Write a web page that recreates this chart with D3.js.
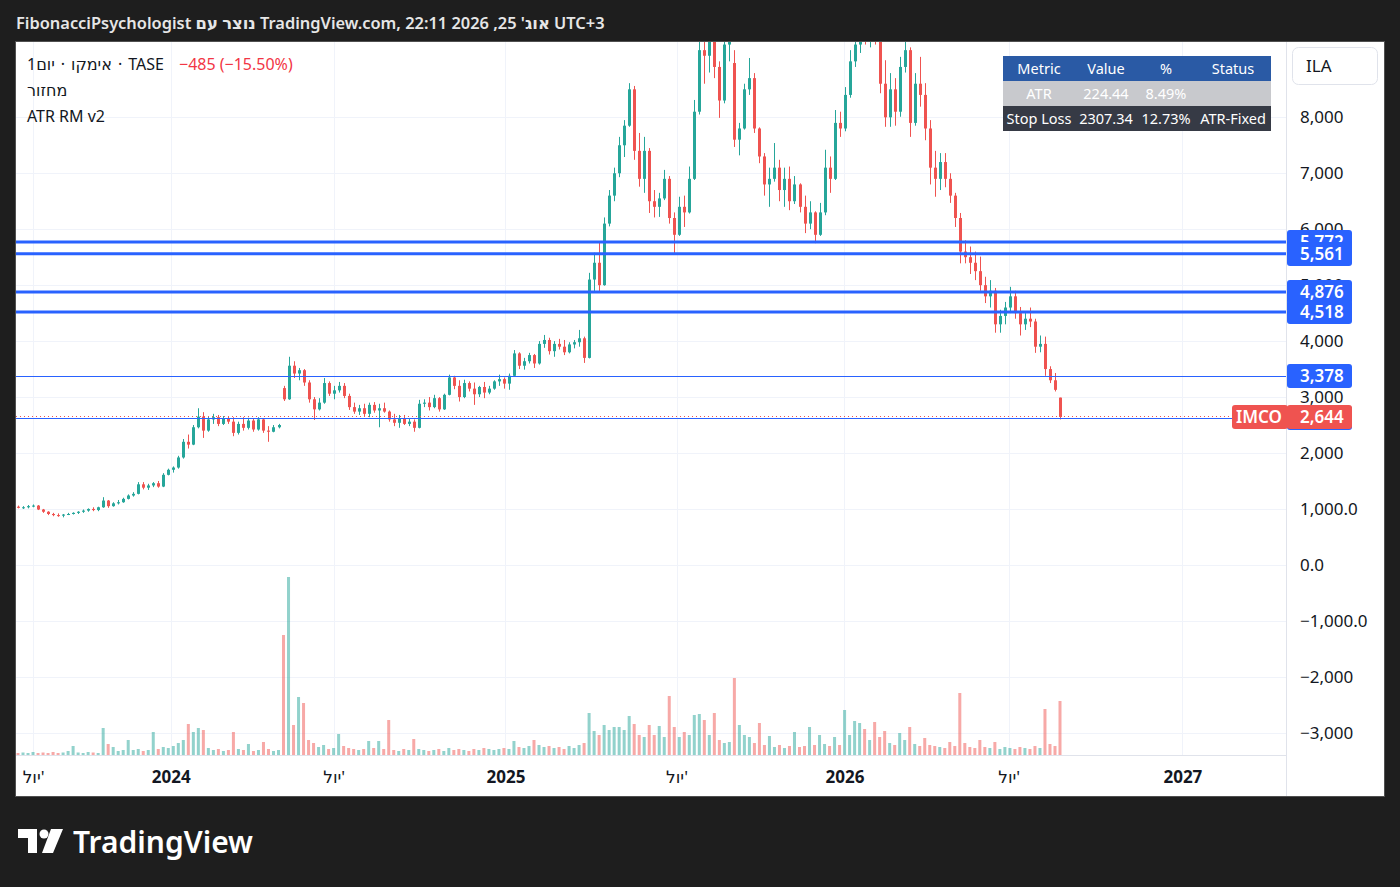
<!DOCTYPE html>
<html>
<head>
<meta charset="utf-8">
<script src="https://cdn.jsdelivr.net/npm/d3@7"></script>
<style>
  html, body { margin: 0; padding: 0; background: #1e1e1e; }
  svg { display: block; font-family: "Noto Sans", "DejaVu Sans", sans-serif; }
</style>
</head>
<body>
<svg id="chart" width="1400" height="887"></svg>
<script>
// candles, one per ~4 trading days (ILA)
const opens = [1040,1020,1030,1050,1060,990,950,910,890,880,900,910,930,950,970,1000,980,
  1030,1150,1050,1100,1120,1180,1240,1270,1440,1380,1420,1460,1400,1610,1700,1740,1920,2200,2150,2460,2650,
  2400,2600,2640,2520,2620,2560,2360,2520,2450,2580,2420,2600,2400,2380,2460,
  3160,2960,3560,3420,3480,3260,2960,2780,2900,3250,3060,3120,3200,3020,2820,2740,2800,2700,2860,2760,2800,2740,
  2600,2540,2620,2520,2560,2450,2880,2900,2820,2980,2780,3040,3350,3200,3000,3250,3150,3050,3180,3080,3150,3280,3320,3240,
  3380,3780,3560,3640,3750,3600,3950,4020,3820,3950,3900,3800,3940,3980,4050,
  3700,5100,5400,5000,6100,6600,7000,7500,7850,8500,7400,6900,7400,6500,6400,6550,6900,6200,5900,6400,6300,6900,8100,9200,9100,9400,8900,8300,9300,
  8970,7600,7800,8500,
  8700,7800,7300,6800,6900,7100,6700,6900,6500,6800,6400,6100,6300,5900,6300,7100,6900,7900,
  7800,8400,9000,9300,9500,9400,9550,9400,8600,8000,
  8500,8100,8900,9200,7900,8600,8400,7800,7100,6900,7200,6900,6600,
  6200,
  5600,5500,5400,5250,5000,4800,4900,4300,4450,4600,4800,4500,4300,4400,4350,3900,
  3950,3500,3300,2990];
const highs = [1060,1050,1070,1080,1070,1000,960,930,920,910,930,940,960,990,1010,1030,1040,
  1210,1160,1120,1160,1200,1260,1300,1480,1480,1450,1480,1500,1640,1720,1760,1950,2250,2330,2500,2800,2730,
  2650,2700,2680,2660,2650,2640,2560,2640,2630,2620,2640,2620,2480,2500,2520,
  3200,3720,3640,3520,3500,3300,3000,2980,3340,3280,3200,3270,3250,3060,2900,2860,2880,2900,2910,2880,2900,2760,
  2700,2680,2680,2620,2600,2950,2960,3000,3040,3000,3060,3400,3380,3300,3310,3280,3260,3200,3270,3200,3300,3400,3350,3420,
  3840,3800,3700,3790,3770,4000,4110,4060,4000,4040,4020,3980,4020,4200,4080,
  5220,5580,5760,6210,6700,7100,7650,7950,8610,8560,7720,7650,7450,6700,6650,7060,6950,6300,6580,6600,7120,8310,9400,9500,9600,9500,9000,9400,9600,
  9200,7900,8600,9060,
  8790,7820,7360,7100,7540,7240,7100,7120,6950,6820,6600,6500,6320,6470,7420,7300,8130,8100,
  8540,9200,9400,9600,9700,9650,9650,9500,9020,8790,
  8700,9080,9500,9250,8790,9080,8610,7950,7400,7360,7360,7000,6650,
  6290,
  5800,5690,5600,5510,5150,5090,4950,4560,4700,4970,4900,4610,4500,4600,4400,4100,
  4080,3550,3430,2990];
const lows = [1010,1000,1010,1030,980,930,890,870,860,850,890,900,910,930,950,960,960,
  1020,1020,1040,1080,1110,1170,1220,1260,1350,1340,1390,1380,1390,1600,1650,1720,1900,2080,2140,2440,2270,
  2380,2520,2480,2500,2520,2300,2330,2400,2420,2380,2400,2360,2200,2370,2440,
  2930,2950,3340,3300,3200,2900,2590,2760,2880,3020,2960,3080,2980,2770,2700,2680,2660,2640,2720,2460,2720,2560,
  2480,2450,2500,2480,2380,2440,2820,2760,2800,2740,2770,3030,3140,2920,2980,3100,2860,3000,2980,3050,3130,3200,3150,3130,
  3370,3500,3490,3600,3520,3580,3880,3760,3720,3850,3750,3780,3870,3900,3610,
  3690,4860,4860,4990,6050,6500,6930,7290,7830,7240,6760,6650,6290,6210,6220,6520,6100,5570,5880,6040,6280,6880,8050,8600,8800,8700,7990,8250,9000,
  7470,7320,7780,8400,
  7720,7180,6600,6400,6850,6500,6400,6340,6450,6300,5930,6000,5750,5880,6250,6650,6880,7650,
  7750,8350,8900,9150,9300,9250,9300,8430,7830,7830,
  7850,8010,8800,7650,7850,8190,7590,6800,6580,6700,6750,6470,6040,
  5390,
  5390,5200,5090,4900,4680,4600,4150,4150,4300,4500,4400,4100,4200,4250,3790,3800,
  3380,3250,3100,2600];
const closes = [1020,1030,1050,1060,990,950,910,890,880,900,910,930,950,970,1000,980,1030,
  1150,1050,1100,1120,1180,1240,1270,1440,1380,1420,1460,1400,1610,1700,1740,1920,2200,2150,2460,2650,2400,
  2600,2640,2520,2620,2560,2360,2520,2450,2580,2420,2600,2400,2380,2460,2500,
  2960,3560,3420,3480,3260,2960,2780,2900,3250,3060,3120,3200,3020,2820,2740,2800,2700,2860,2760,2800,2740,2600,
  2540,2620,2520,2560,2450,2880,2900,2820,2980,2780,3040,3350,3200,3000,3250,3150,3050,3180,3080,3150,3280,3320,3240,3380,
  3780,3560,3640,3750,3600,3950,4020,3820,3950,3900,3800,3940,3980,4050,3700,
  5100,5400,5000,6100,6600,7000,7500,7850,8500,7400,6900,7400,6500,6400,6550,6900,6200,5900,6400,6300,6900,8100,9200,9100,9400,8900,8300,9300,9450,
  7600,7800,8500,8700,
  7800,7300,6800,6900,7100,6700,6900,6500,6800,6400,6100,6300,5900,6300,7100,6900,7900,7800,
  8400,9000,9300,9500,9400,9550,9400,8600,8000,8500,
  8100,8900,9200,7900,8600,8400,7800,7100,6900,7200,6900,6600,6200,
  5600,
  5500,5400,5250,5000,4800,4900,4300,4450,4600,4800,4500,4300,4400,4350,3900,3950,
  3500,3300,3129,2644];
const volumes = [20,25,20,30,20,25,20,30,20,25,40,90,25,20,30,25,20,
  270,110,80,40,50,150,50,60,40,50,230,
  60,80,70,90,120,150,310,230,270,250,
  70,50,60,40,50,230,60,50,110,40,50,130,60,40,50,
  1200,1780,300,580,520,
  150,120,80,100,60,70,210,90,70,60,50,60,140,70,140,60,350,
  50,40,60,50,160,60,50,40,50,60,40,70,50,60,50,40,60,50,70,60,50,60,70,60,
  140,80,70,90,150,100,80,90,70,80,60,90,70,100,120,
  420,240,200,300,250,280,280,250,390,310,200,180,300,200,290,180,590,280,180,230,200,400,410,350,200,420,150,120,130,
  770,300,200,180,
  120,320,100,190,80,100,70,90,230,80,90,280,100,200,110,90,180,100,
  450,200,340,320,260,150,330,180,240,120,
  100,220,150,280,110,90,170,100,90,80,70,130,90,
  620,
  120,80,70,150,80,70,130,60,80,70,60,80,70,60,90,70,
  460,110,90,540];

// axis ticks
const priceTicks = [8000, 7000, 6000, 5000, 4000, 3000, 2000, 1000, 0, -1000, -2000, -3000];
const priceTickLabels = ["8,000", "7,000", "6,000", "5,000", "4,000", "3,000", "2,000", "1,000.0", "0.0", "\u22121,000.0", "\u22122,000", "\u22123,000"];
// time ticks, in candle-index units
const timeTicks = [3.03, 30.48, 63.02, 97.31, 131.45, 164.98, 197.76, 232.43];
const timeTickLabels = ["יול'", "2024", "יול'", "2025", "יול'", "2026", "יול'", "2027"];

// horizontal levels
const zoneLevels = [5772, 5561, 4876, 4518];
const zoneLabels = ["5,772", "5,561", "4,876", "4,518"];
const atrLevel = 3378, atrLabel = "3,378";
const supportLevel = 2620;
const lastPrice = 2644, lastLabel = "2,644", ticker = "IMCO";

// ATR table
const tableHead = ["Metric", "Value", "%", "Status"];
const tableAtr = ["ATR", "224.44", "8.49%", ""];
const tableStop = ["Stop Loss", "2307.34", "12.73%", "ATR-Fixed"];

const UP = "#26a69a", DOWN = "#ef5350", BLUE = "#2962ff", INK = "#131722";
const pane = {left: 16, right: 1286, top: 42, bottom: 755};

const svg = d3.select("#chart");

svg.append("rect").attr("width", 1400).attr("height", 887).attr("fill", "#1e1e1e");
svg.append("rect")
   .attr("x", 15.5).attr("y", 41.5).attr("width", 1369).attr("height", 755)
   .attr("fill", "#ffffff").attr("stroke", "#505050");

let x = d3.scaleLinear().domain([0, closes.length - 1]).range([18, 1060]);
let y = d3.scaleLinear().domain([-3000, 8000]).range([732.75, 117.3]);
let yVol = d3.scaleLinear().domain([0, d3.max(volumes)]).range([pane.bottom, 577]);

// grid
let grid = svg.append("g").attr("stroke", "#f0f3fa").attr("stroke-width", 1);
grid.selectAll("line.h")
    .data(priceTicks)
    .enter()
    .append("line")
    .attr("class", "h")
    .attr("x1", pane.left).attr("x2", pane.right)
    .attr("y1", d => Math.round(y(d)) + 0.5).attr("y2", d => Math.round(y(d)) + 0.5);
grid.selectAll("line.v")
    .data(timeTicks)
    .enter()
    .append("line")
    .attr("class", "v")
    .attr("x1", d => Math.round(x(d)) + 0.5).attr("x2", d => Math.round(x(d)) + 0.5)
    .attr("y1", pane.top).attr("y2", pane.bottom);

svg.append("clipPath").attr("id", "paneClip")
   .append("rect")
   .attr("x", pane.left).attr("y", pane.top)
   .attr("width", pane.right - pane.left).attr("height", pane.bottom - pane.top);

let plot = svg.append("g").attr("clip-path", "url(#paneClip)");

let idx = d3.range(closes.length);
let isUp = i => closes[i] >= opens[i];

// volume
plot.append("g")
    .selectAll("rect")
    .data(idx)
    .enter()
    .append("rect")
    .attr("x", i => x(i) - 1.5)
    .attr("width", 3)
    .attr("y", i => yVol(volumes[i]))
    .attr("height", i => pane.bottom - yVol(volumes[i]))
    .attr("fill", i => isUp(i) ? UP : DOWN)
    .attr("fill-opacity", 0.5);

// candles
let candles = plot.append("g")
                  .selectAll("g")
                  .data(idx)
                  .enter()
                  .append("g")
                  .attr("fill", i => isUp(i) ? UP : DOWN)
                  .attr("stroke", i => isUp(i) ? UP : DOWN);
candles.append("line")
       .attr("x1", i => Math.round(x(i)) + 0.5).attr("x2", i => Math.round(x(i)) + 0.5)
       .attr("y1", i => y(highs[i])).attr("y2", i => y(lows[i]))
       .attr("stroke-width", 1);
candles.append("rect")
       .attr("stroke", "none")
       .attr("x", i => Math.round(x(i)) - 1)
       .attr("width", 3)
       .attr("y", i => y(Math.max(opens[i], closes[i])))
       .attr("height", i => Math.max(1, Math.abs(y(opens[i]) - y(closes[i]))));

// level lines
plot.selectAll("line.zone")
    .data(zoneLevels)
    .enter()
    .append("line")
    .attr("class", "zone")
    .attr("x1", pane.left).attr("x2", pane.right)
    .attr("y1", d => y(d)).attr("y2", d => y(d))
    .attr("stroke", BLUE).attr("stroke-width", 3);
plot.append("line")
    .attr("x1", pane.left).attr("x2", pane.right)
    .attr("y1", Math.round(y(atrLevel)) + 0.5).attr("y2", Math.round(y(atrLevel)) + 0.5)
    .attr("stroke", BLUE).attr("stroke-width", 1);
plot.append("line")
    .attr("x1", pane.left).attr("x2", pane.right)
    .attr("y1", Math.round(y(supportLevel)) + 0.5).attr("y2", Math.round(y(supportLevel)) + 0.5)
    .attr("stroke", BLUE).attr("stroke-width", 1);
plot.append("line")
    .attr("x1", pane.left).attr("x2", 1232)
    .attr("y1", Math.round(y(lastPrice)) - 0.5).attr("y2", Math.round(y(lastPrice)) - 0.5)
    .attr("stroke", DOWN).attr("stroke-width", 1).attr("stroke-dasharray", "1,3");

// separators
svg.append("line").attr("x1", 1286.5).attr("x2", 1286.5).attr("y1", 42).attr("y2", 796)
   .attr("stroke", "#e0e3eb");
svg.append("line").attr("x1", 16).attr("x2", 1286.5).attr("y1", 755.5).attr("y2", 755.5)
   .attr("stroke", "#e0e3eb");

// price axis
let yAxis = d3.axisRight(y)
              .tickValues(priceTicks)
              .tickFormat((d, i) => priceTickLabels[i])
              .tickSize(0)
              .tickPadding(13);
svg.append("g")
   .attr("transform", "translate(1287,0)")
   .call(yAxis)
   .call(g => g.select(".domain").remove())
   .attr("font-family", null)
   .attr("font-size", 17)
   .selectAll("text").attr("fill", INK);

// time axis
let xAxis = d3.axisBottom(x)
              .tickValues(timeTicks)
              .tickFormat((d, i) => timeTickLabels[i])
              .tickSize(0)
              .tickPadding(15);
svg.append("g")
   .attr("transform", "translate(0,756)")
   .call(xAxis)
   .call(g => g.select(".domain").remove())
   .attr("font-family", null)
   .attr("font-size", 17)
   .selectAll("text")
   .attr("fill", INK)
   .attr("font-weight", (d, i) => /^\d+$/.test(timeTickLabels[i]) ? 700 : 400);

// price labels on the axis
let priceLabel = function(value, text, fill) {
  let cy = Math.round(y(value));
  let g = svg.append("g");
  g.append("rect")
   .attr("x", 1287).attr("y", cy - 12).attr("width", 65).attr("height", 24)
   .attr("rx", 3).attr("fill", fill);
  if (text) {
    g.append("text")
     .attr("x", 1300).attr("y", cy).attr("dy", "0.35em")
     .attr("font-size", 17).attr("font-weight", 600).attr("fill", "#ffffff")
     .text(text);
  }
  return g;
};
zoneLevels.forEach((v, i) => priceLabel(v, zoneLabels[i], BLUE));
priceLabel(atrLevel, atrLabel, BLUE);
priceLabel(supportLevel, null, BLUE);
priceLabel(lastPrice, lastLabel, DOWN);
let tcy = Math.round(y(lastPrice));
svg.append("rect")
   .attr("x", 1232).attr("y", tcy - 12).attr("width", 56).attr("height", 24)
   .attr("rx", 3).attr("fill", DOWN);
svg.append("text")
   .attr("x", 1259).attr("y", tcy).attr("dy", "0.35em").attr("text-anchor", "middle")
   .attr("font-size", 17).attr("font-weight", 600).attr("fill", "#ffffff")
   .text(ticker);

// currency box
svg.append("rect")
   .attr("x", 1292.5).attr("y", 47.5).attr("width", 85).attr("height", 37)
   .attr("rx", 6).attr("fill", "#ffffff").attr("stroke", "#e0e3eb");
svg.append("text")
   .attr("x", 1306).attr("y", 66).attr("dy", "0.35em")
   .attr("font-size", 17).attr("fill", INK).text("ILA");

// table
let colEdges = [1003, 1075, 1137, 1195, 1271];
let rowTops = [56, 81, 106, 131];
let tableRows = [tableHead, tableAtr, tableStop];
let rowFills = ["#2a5aa5", "#c8c9cd", "#363a45"];
let table = svg.append("g");
tableRows.forEach((r, ri) => {
  table.append("rect")
       .attr("x", colEdges[0]).attr("y", rowTops[ri])
       .attr("width", colEdges[4] - colEdges[0]).attr("height", rowTops[ri + 1] - rowTops[ri])
       .attr("fill", rowFills[ri]);
  r.forEach((cell, ci) => {
    if (!cell) return;
    table.append("text")
         .attr("x", (colEdges[ci] + colEdges[ci + 1]) / 2)
         .attr("y", (rowTops[ri] + rowTops[ri + 1]) / 2)
         .attr("dy", "0.35em")
         .attr("text-anchor", "middle")
         .attr("font-size", 14.5)
         .attr("fill", "#ffffff")
         .text(cell);
  });
});

// text pieces laid out left to right
let lineOf = function(parts, x0, yb, gap, attrs) {
  let cx = x0;
  parts.forEach(p => {
    let t = svg.append("text").attr("x", cx).attr("y", yb).text(p);
    Object.keys(attrs).forEach(k => t.attr(k, attrs[k]));
    cx += t.node().getComputedTextLength() + gap;
  });
  return cx;
};

// header
svg.append("text")
   .attr("x", 16).attr("y", 29)
   .attr("font-size", 16.4).attr("font-weight", 600).attr("fill", "#e6e6e6")
   .text("FibonacciPsychologist נוצר עם TradingView.com, אוג' 25, 2026 22:11 UTC+3");

// legend
let legendAttrs = {"font-size": 16, "fill": INK};
lineOf(["1יום", "·", "אימקו", "·", "TASE"], 27, 70, 6, legendAttrs);
svg.append("text").attr("x", 179).attr("y", 70)
   .attr("font-size", 16).attr("fill", "#f23645")
   .text("\u2212485 (\u221215.50%)");
svg.append("text").attr("x", 27).attr("y", 96).attr("font-size", 16).attr("fill", INK).text("מחזור");
svg.append("text").attr("x", 27).attr("y", 122).attr("font-size", 16).attr("fill", INK).text("ATR RM v2");

// footer logo
let logo = svg.append("g").attr("fill", "#ffffff");
logo.append("path").attr("d", "M18,829 H37 V853 H28 V838 H18 Z");
logo.append("circle").attr("cx", 44).attr("cy", 834).attr("r", 4.5);
logo.append("path").attr("d", "M51,829 H63 L53,853 H42 Z");
logo.append("text")
    .attr("x", 73).attr("y", 853)
    .attr("font-size", 30).attr("font-weight", 600)
    .text("TradingView");
</script>
</body>
</html>
